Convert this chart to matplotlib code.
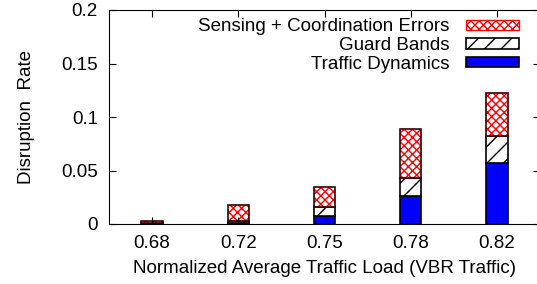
import numpy as np
import matplotlib.pyplot as plt
from matplotlib.patches import Patch

plt.rcParams['font.family'] = ['Liberation Sans', 'DejaVu Sans']
plt.rcParams['hatch.linewidth'] = 1.0

# data
loads = ['0.68', '0.72', '0.75', '0.78', '0.82']
traffic = [0.0, 0.001, 0.0075, 0.026, 0.057]
guard = [0.0005, 0.002, 0.0085, 0.017, 0.025]
sensing = [0.0025, 0.015, 0.0185, 0.046, 0.040]

x = np.arange(1, len(loads) + 1)
traffic = np.array(traffic)
guard = np.array(guard)
sensing = np.array(sensing)
w = 0.25

fig = plt.figure(figsize=(5.37, 2.84), dpi=100)
ax = fig.add_axes([109 / 537, 1 - 224 / 284, (540 - 109) / 537, 214 / 284])

# traffic dynamics (solid blue)
ax.bar(x, traffic, w, color='blue', edgecolor='black', linewidth=1.2)
# guard bands (black diagonal hatch)
ax.bar(x, guard, w, bottom=traffic, color='white', edgecolor='black', hatch='//', linewidth=1.2)
# sensing errors: red crosshatch, then black outline on top
ax.bar(x, sensing, w, bottom=traffic + guard, color='white', edgecolor='red', hatch='xxxx', linewidth=0)
ax.bar(x, sensing, w, bottom=traffic + guard, color='none', edgecolor='#3a0000', linewidth=1.2)

# legend proxies
h_sens = Patch(facecolor='white', edgecolor='red', hatch='xxxx')
h_guard = Patch(facecolor='white', edgecolor='black', hatch='//', linewidth=1.2)
h_traf = Patch(facecolor='blue', edgecolor='black', linewidth=1.2)
leg = ax.legend([h_sens, h_guard, h_traf],
                ['Sensing + Coordination Errors', 'Guard Bands', 'Traffic Dynamics'],
                loc='upper right', bbox_to_anchor=(0.99, 1.04), frameon=False, markerfirst=False,
                fontsize=13.5, handlelength=2.8, handleheight=0.45, labelspacing=0.1,
                handletextpad=0.9)
for t in leg.get_texts():
    t.set_ha('right')

ax.set_xlim(0.5, 5.5)
ax.set_ylim(0, 0.2)
ax.set_xticks(x)
ax.set_xticklabels(loads)
ax.set_yticks([0, 0.05, 0.1, 0.15, 0.2])
ax.set_yticklabels(['0', '0.05', '0.1', '0.15', '0.2'])
ax.tick_params(direction='in', top=True, right=True, length=5, labelsize=13.5, pad=8)
ax.set_xlabel('Normalized Average Traffic Load (VBR Traffic)', fontsize=13.5, labelpad=6)
ax.set_ylabel('Disruption  Rate', fontsize=13.5, labelpad=19)

plt.savefig('out.png', dpi=100)
